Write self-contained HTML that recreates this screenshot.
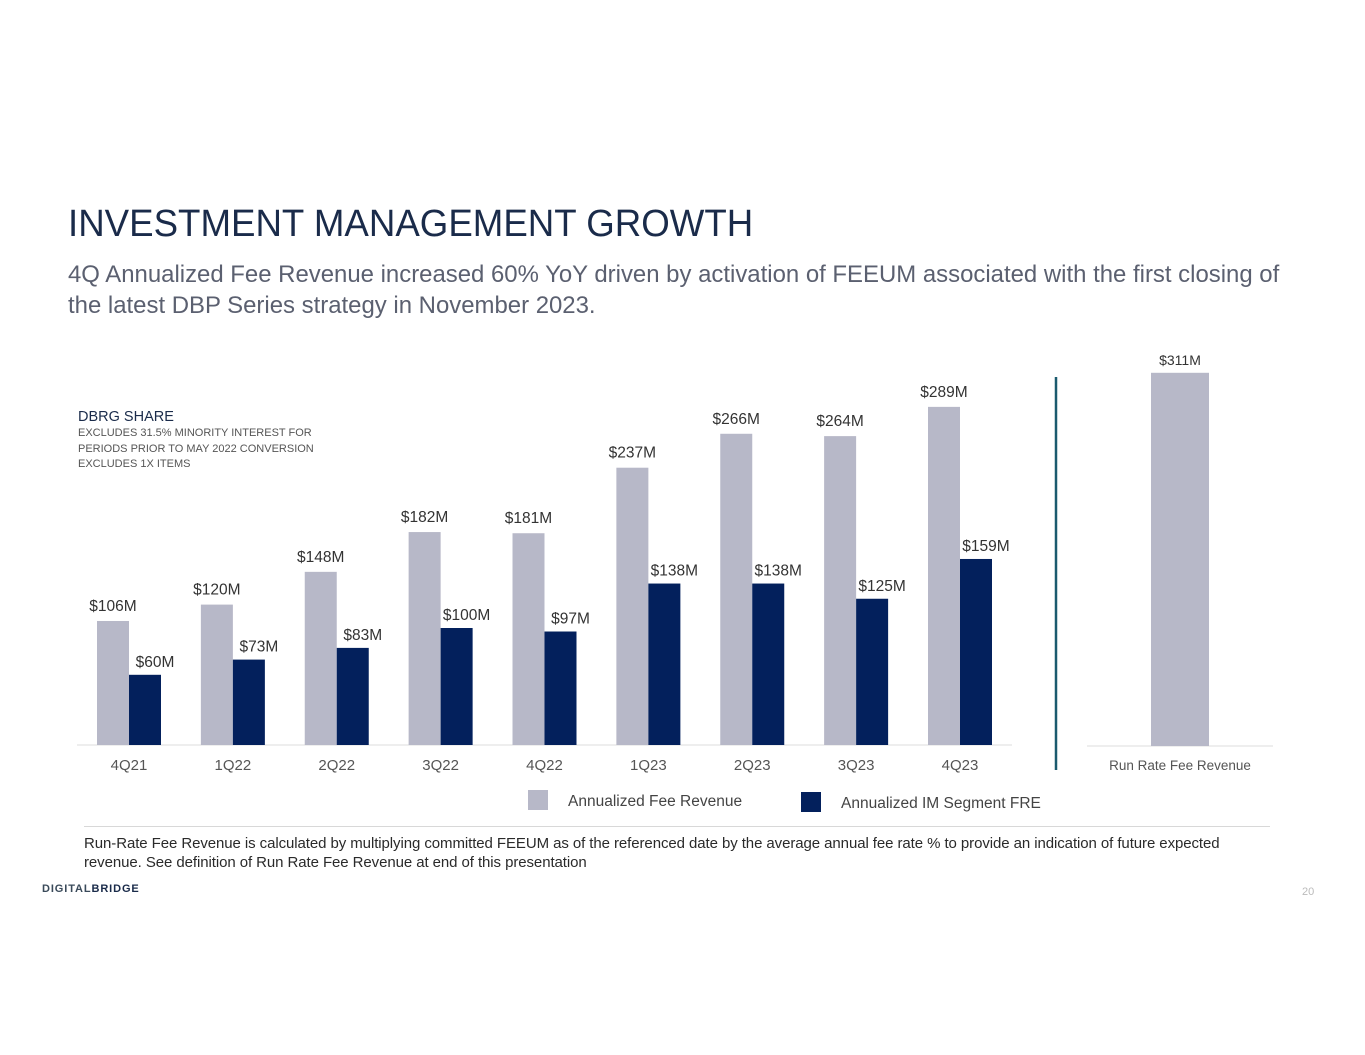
<!DOCTYPE html>
<html><head><meta charset="utf-8">
<style>
body{margin:0;width:1365px;height:1055px;background:#fff;font-family:"Liberation Sans",sans-serif;position:relative;overflow:hidden}
.abs{position:absolute}
</style></head><body>
<div class="abs" style="left:68px;top:203px;font-size:38px;color:#1a2b4a;transform:scaleX(0.965);transform-origin:left;white-space:nowrap">INVESTMENT MANAGEMENT GROWTH</div>
<div class="abs" style="left:68px;top:259px;font-size:24px;line-height:31px;color:#5b6070;width:1280px;white-space:nowrap;transform:scaleX(0.997);transform-origin:left">4Q Annualized Fee Revenue increased 60% YoY driven by activation of FEEUM associated with the first closing of<br>the latest DBP Series strategy in November 2023.</div>
<div class="abs" style="left:78px;top:409px;color:#555;font-size:11px;line-height:15.5px">
<div style="color:#1a2b4a;font-size:14.5px;line-height:17px">DBRG SHARE</div>
EXCLUDES 31.5% MINORITY INTEREST FOR<br>PERIODS PRIOR TO MAY 2022 CONVERSION<br>EXCLUDES 1X ITEMS</div>
<svg class="abs" style="left:0;top:0" width="1365" height="1055" id="chart"></svg>
<div class="abs" style="left:84px;top:826px;width:1186px;height:1px;background:#d8d8d8"></div>
<div class="abs" style="left:84px;top:834px;font-size:15px;line-height:19px;color:#2a2a2a;letter-spacing:-0.08px;white-space:nowrap">Run-Rate Fee Revenue is calculated by multiplying committed FEEUM as of the referenced date by the average annual fee rate % to provide an indication of future expected<br>revenue. See definition of Run Rate Fee Revenue at end of this presentation</div>
<div class="abs" style="left:42px;top:883px;font-size:11px;font-weight:bold;color:#3a4a5a;letter-spacing:0.9px">DIGITAL<span style="color:#1a2b4a">BRIDGE</span></div>
<div class="abs" style="left:1302px;top:886px;font-size:11px;color:#bbb">20</div>
<script>
const categories=["4Q21","1Q22","2Q22","3Q22","4Q22","1Q23","2Q23","3Q23","4Q23"];
const feeRevenue=[106,120,148,182,181,237,266,264,289];
const segmentFRE=[60,73,83,100,97,138,138,125,159];
const runRateLabel=["Run Rate Fee Revenue"];
const runRateValue=[311];
const svg=document.getElementById('chart');
const NS="http://www.w3.org/2000/svg";
function add(tag,attrs,text){const e=document.createElementNS(NS,tag);for(const k in attrs)e.setAttribute(k,attrs[k]);if(text!==undefined)e.textContent=text;svg.appendChild(e);return e;}
const base=745,scale=1.17;
const y=v=>base-v*scale;
const xg=i=>97+i*103.875;
let ax=add('line',{x1:77,x2:1012,y1:base,y2:base,stroke:'#ddd'});

categories.forEach((c,i)=>{
 const x=xg(i);
 let r=add('rect',{x:x,y:y(feeRevenue[i]),width:32,height:feeRevenue[i]*scale,fill:'#b7b8c8'});
 
 let n=add('rect',{x:x+32,y:y(segmentFRE[i]),width:32,height:segmentFRE[i]*scale,fill:'#03205c'});
 
 let t=add('text',{x:x+16,y:y(feeRevenue[i])-10,'text-anchor':'middle','font-size':15.5,fill:'#333'},'$'+feeRevenue[i]+'M');
 
 let t2=add('text',{x:x+58,y:y(segmentFRE[i])-8,'text-anchor':'middle','font-size':15.5,fill:'#333'},'$'+segmentFRE[i]+'M');
 
 let tk=add('text',{x:x+32,y:770,'text-anchor':'middle','font-size':15,fill:'#555'},c);
 
});
let sep=add('line',{x1:1056,x2:1056,y1:377,y2:770,stroke:'#1b5a6e','stroke-width':2.5});

const rbase=746,rscale=1.2;
let ax2=add('line',{x1:1087,x2:1273,y1:rbase,y2:rbase,stroke:'#ddd'});

let rb=add('rect',{x:1151,y:rbase-runRateValue[0]*rscale,width:58,height:runRateValue[0]*rscale,fill:'#b7b8c8'});

let rl=add('text',{x:1180,y:rbase-runRateValue[0]*rscale-8,'text-anchor':'middle','font-size':14,fill:'#333'},'$'+runRateValue[0]+'M');

let rt=add('text',{x:1180,y:770,'text-anchor':'middle','font-size':13.5,fill:'#555'},runRateLabel[0]);

let l1=add('rect',{x:528,y:790,width:20,height:20,fill:'#b7b8c8'});

let l1t=add('text',{x:568,y:806,'font-size':15.5,fill:'#444'},'Annualized Fee Revenue');

let l2=add('rect',{x:801,y:792,width:20,height:20,fill:'#03205c'});

let l2t=add('text',{x:841,y:808,'font-size':15.5,fill:'#444'},'Annualized IM Segment FRE');

</script>
</body></html>
